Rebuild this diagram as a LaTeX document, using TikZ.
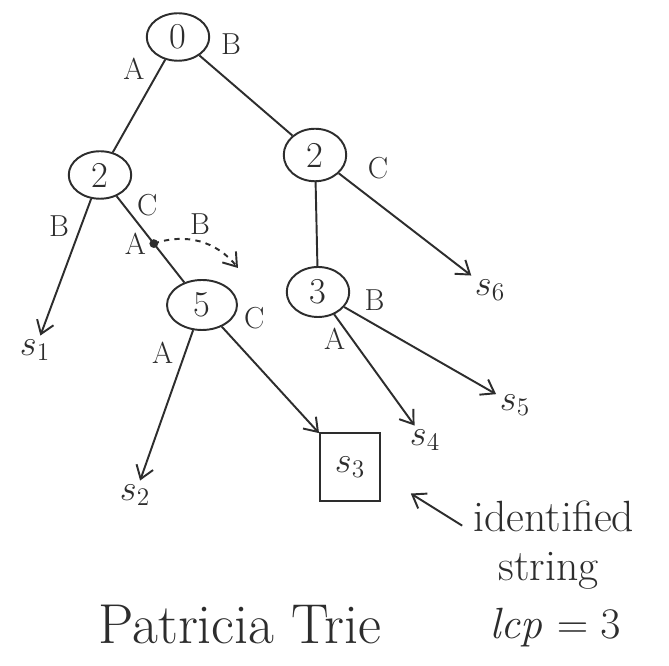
\documentclass[tikz,border=0pt]{standalone}
\usepackage{xcolor}
\usepackage{tikz}
\usetikzlibrary{shapes.geometric, arrows.meta, positioning}
\definecolor{ink}{RGB}{45,45,45}
\tikzset{
  inner/.style={ellipse, draw=ink, line width=1.1pt, minimum width=12.5mm,
    minimum height=9.5mm, inner sep=1pt, font=\huge, text=ink},
  leaf/.style={font=\huge, inner sep=2pt, text=ink},
  hit/.style={leaf, rectangle, draw=ink, line width=1.1pt, minimum width=12mm,
    minimum height=13.5mm},
  branch/.style={line width=1.1pt, color=ink},
  arrow/.style={branch, -{Straight Barb[length=2.5mm, width=3.5mm]}},
  lbl/.style={font=\LARGE, text=ink},
  note/.style={font=\huge, align=left, text=ink}
}
\begin{document}
\begin{tikzpicture}
  \useasboundingbox[fill=white] (0,0) rectangle (13.38,-13.32);
  % internal nodes (depth of the split)
  \node[inner] (root) at (3.56,-0.74) {0};
  \node[inner] (left) at (2.0,-3.5) {2};
  \node[inner, minimum height=10.5mm] (right) at (6.3,-3.1) {2};
  \node[inner, minimum width=14mm, minimum height=10mm] (five) at (4.04,-6.1) {5};
  \node[inner, minimum height=10mm] (three) at (6.36,-5.84) {3};
  % leaves
  \node[leaf] (s1) at (0.7,-7.0) {$s_1$};
  \node[leaf] (s2) at (2.7,-9.9) {$s_2$};
  \node[hit] (s3) at (7.0,-9.34) {$s_3$};
  \node[leaf] (s4) at (8.5,-8.8) {$s_4$};
  \node[leaf] (s5) at (10.3,-8.1) {$s_5$};
  \node[leaf] (s6) at (9.8,-5.8) {$s_6$};
  % edges
  \draw[branch] (root) -- node[lbl, pos=0.1, left=5pt] {A} (left);
  \draw[branch] (root) -- node[lbl, pos=0.12, above right=3pt] {B} (right);
  \draw[arrow] (left) -- node[lbl, pos=0.2, left=3pt] {B} (s1);
  \draw[branch] (left) -- node[lbl, pos=0.1, right=4pt] {C}
    coordinate[pos=0.55] (split) (five);
  \draw[arrow] (right) -- node[lbl, pos=0.15, above right=2pt] {C} (s6);
  \draw[branch] (right) -- (three);
  \draw[arrow] (five) -- node[lbl, pos=0.15, left=3pt] {A} (s2);
  \draw[arrow] (five) -- node[lbl, pos=0.12, above right=3pt] {C} (s3);
  \draw[arrow] (three) -- node[lbl, pos=0.22, left=0pt] {A} (s4);
  \draw[arrow] (three) -- node[lbl, pos=0.2, above=4pt] {B} (s5);
  % skipped character
  \fill[ink] (split) circle (2.5pt);
  \node[lbl, left=1pt of split] (skipA) {A};
  \coordinate (skip) at (4.76,-5.36);
  \draw[arrow, dashed] (split) to[bend left=35] node[lbl, above] {B} (skip);
  % notes
  \node[note, font=\Huge, anchor=west] (ident) at (9.35,-10.9)
    {identified\\[-2pt]\hspace*{0.5cm}string};
  \draw[arrow, shorten >=20pt] ([xshift=-3pt, yshift=11pt]ident.west)
    -- ([yshift=-4.5pt]s3.east);
  \node[note, font=\fontsize{32}{38}\selectfont] (title) at (4.8,-12.5) {Patricia Trie};
  \node[note, font=\Huge] (lcp) at (11.1,-12.55) {$\mathit{lcp}=3$};
\end{tikzpicture}
\end{document}
